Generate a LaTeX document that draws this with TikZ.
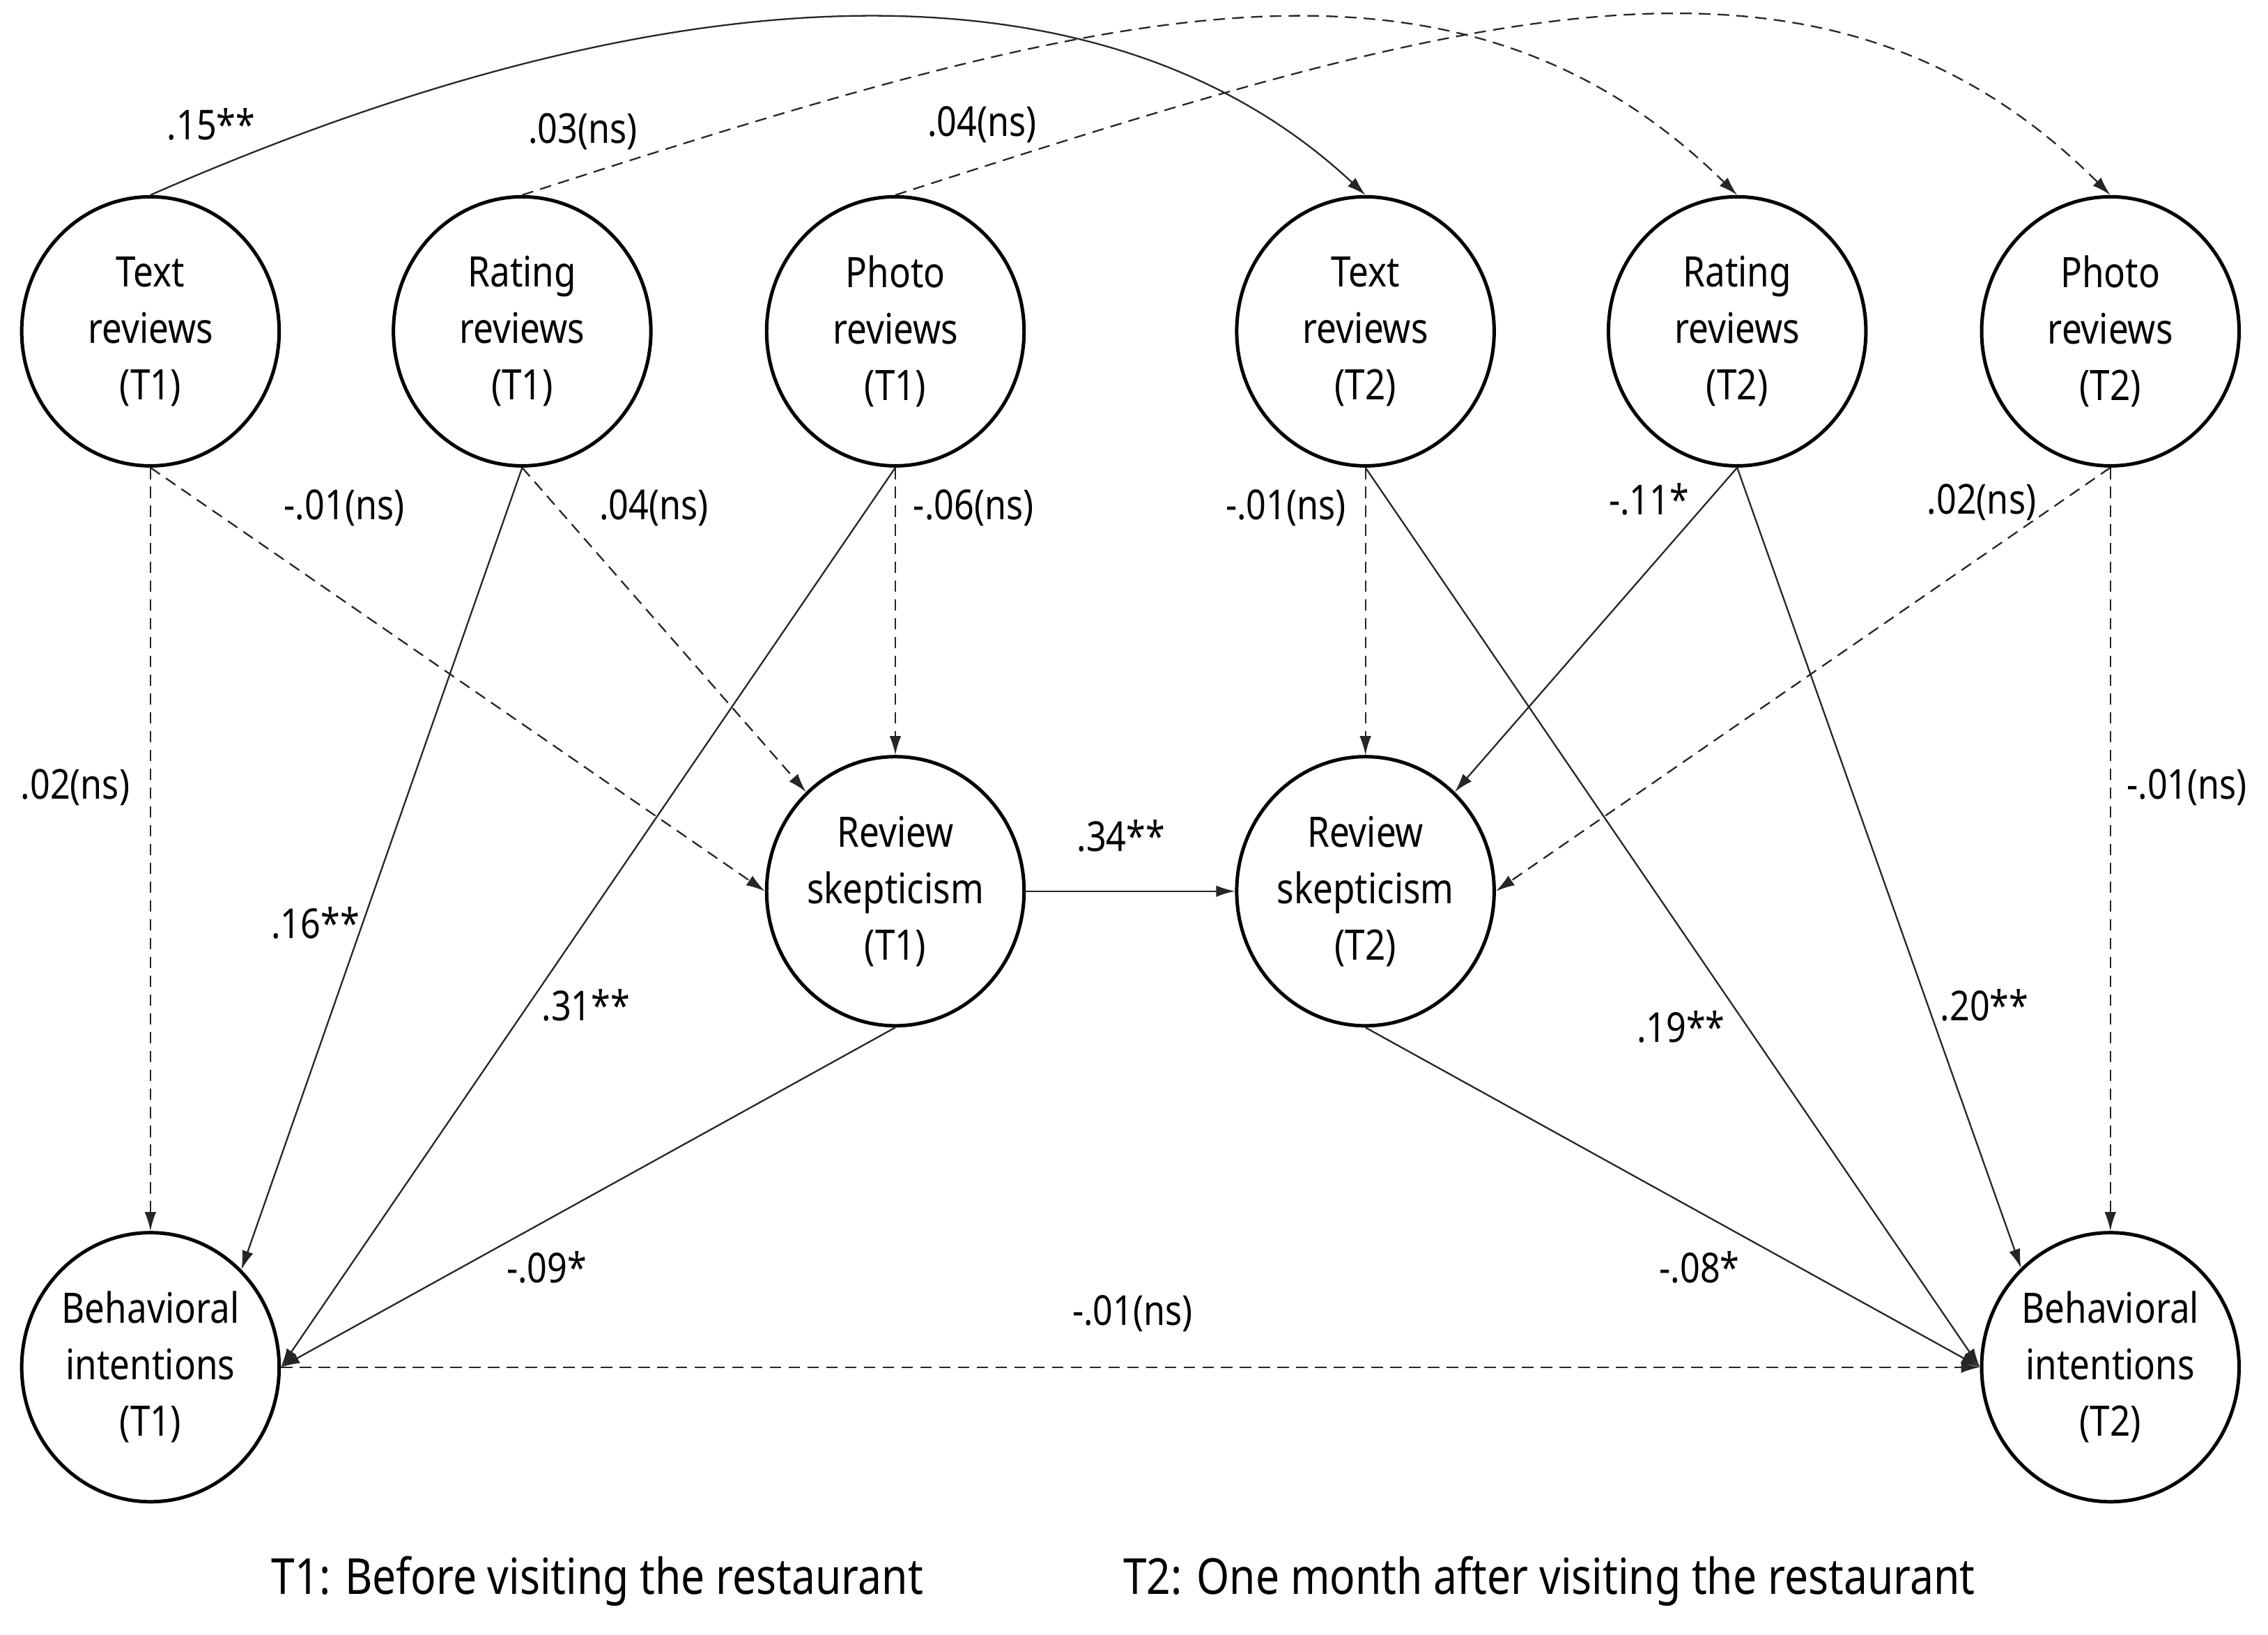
\documentclass[tikz,border=0pt]{standalone}
\usepackage{fontspec}
\setmainfont{Noto Sans}[FakeStretch=0.85]
\usetikzlibrary{arrows.meta,shapes.geometric}
\begin{document}
\begin{tikzpicture}[x=1pt,y=-1pt,
  var/.style={shape=ellipse,draw,line width=2.4pt,minimum width=178pt,minimum height=186pt,inner sep=0pt},
  vtext/.style={align=center,font=\fontsize{29}{39}\selectfont,inner sep=0pt},
  lab/.style={font=\fontsize{28.5}{34}\selectfont,inner sep=0pt},
  foot/.style={font=\fontsize{34.3}{40}\selectfont,inner sep=0pt},
  path/.style={line width=1.1pt,draw=black!85,-{Latex[length=13pt,width=8pt]}},
  dpath/.style={path,dash pattern=on 8pt off 5pt}]
\useasboundingbox (0,0) rectangle (1568,1130);
\fill[white] (0,0) rectangle (1568,1130);

\node[var,label={[vtext]center:Text\\reviews\\(T1)}] (tt1) at (104,229) {};
\node[var,label={[vtext]center:Rating\\reviews\\(T1)}] (rt1) at (361,229) {};
\node[var,label={[vtext]center:Photo\\reviews\\(T1)}] (pt1) at (619,229) {};
\node[var,label={[vtext]center:Text\\reviews\\(T2)}] (tt2) at (944,229) {};
\node[var,label={[vtext]center:Rating\\reviews\\(T2)}] (rt2) at (1201,229) {};
\node[var,label={[vtext]center:Photo\\reviews\\(T2)}] (pt2) at (1459,229) {};
\node[var,label={[vtext]center:Review\\skepticism\\(T1)}] (rs1) at (619,616) {};
\node[var,label={[vtext]center:Review\\skepticism\\(T2)}] (rs2) at (944,616) {};
\node[var,label={[vtext]center:Behavioral\\intentions\\(T1)}] (bi1) at (104,945) {};
\node[var,label={[vtext]center:Behavioral\\intentions\\(T2)}] (bi2) at (1459,945) {};

% top curves
\draw[path] (tt1.north) .. controls (480,-30) and (770,-28) .. (tt2.north);
\draw[dpath] (rt1.north) .. controls (750,9) and (1000,-62) .. (rt2.north);
\draw[dpath] (pt1.north) .. controls (1008,9) and (1258,-66) .. (pt2.north);

% T1 block
\draw[dpath] (tt1.south) -- (bi1.north);
\draw[dpath] (tt1.south) -- (rs1.west);
\draw[path] (rt1.south) -- (bi1.47);
\draw[dpath] (rt1.south) -- (rs1.132);
\draw[path] (pt1.south) -- (bi1.east);
\draw[dpath] (pt1.south) -- (rs1.north);
\draw[path] (rs1.south) -- (bi1.east);
\draw[path] (rs1.east) -- (rs2.west);

% T2 block
\draw[dpath] (tt2.south) -- (rs2.north);
\draw[path] (tt2.south) -- (bi2.west);
\draw[path] (rt2.south) -- (rs2.48);
\draw[path] (rt2.south) -- (bi2.132);
\draw[dpath] (pt2.south) -- (rs2.east);
\draw[dpath] (pt2.south) -- (bi2.north);
\draw[path] (rs2.south) -- (bi2.west);
\draw[dpath] (bi1.east) -- (bi2.west);

% labels
\node[lab] (l1) at (146,86) {.15**};
\node[lab] (l2) at (403,91) {.03(ns)};
\node[lab] (l3) at (679,86) {.04(ns)};
\node[lab] (l4) at (238,351) {-.01(ns)};
\node[lab] (l5) at (452,351) {.04(ns)};
\node[lab] (l6) at (673,351) {-.06(ns)};
\node[lab] (l7) at (889,351) {-.01(ns)};
\node[lab] (l8) at (1140,345) {-.11*};
\node[lab] (l9) at (1370,347) {.02(ns)};
\node[lab] (l10) at (52,544) {.02(ns)};
\node[lab] (l11) at (1512,544) {-.01(ns)};
\node[lab] (l12) at (218,638) {.16**};
\node[lab] (l13) at (405,695) {.31**};
\node[lab] (l14) at (775,578) {.34**};
\node[lab] (l15) at (1162,710) {.19**};
\node[lab] (l16) at (1372,695) {.20**};
\node[lab] (l17) at (378,876) {-.09*};
\node[lab] (l18) at (1175,876) {-.08*};
\node[lab] (l19) at (783,908) {-.01(ns)};

\node[foot] (f1) at (413,1093) {T1: Before visiting the restaurant};
\node[foot] (f2) at (1071,1093) {T2: One month after visiting the restaurant};
\end{tikzpicture}
\end{document}
